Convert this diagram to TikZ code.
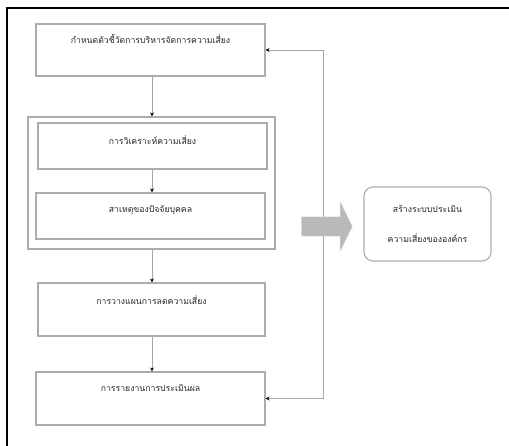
\documentclass[tikz,border=0pt]{standalone}
\usepackage{fontspec}
\newfontfamily\thaifont[Script=Thai]{Loma}
\usetikzlibrary{arrows.meta,positioning,shapes.arrows}

\tikzset{
  stepbox/.style={draw=gray!65, line width=1.1pt, minimum width=229pt, minimum height=52pt},
  boxtext/.style={font=\thaifont\fontsize{8.7}{10}\selectfont, text=black!85},
  flow/.style={draw=gray!70, line width=0.9pt, -{Stealth[black,length=4pt,width=4pt]}},
}

\begin{document}
\begin{tikzpicture}[x=1pt,y=-1pt]
    \useasboundingbox (0,0) rectangle (509,446);
    \clip (0,0) rectangle (509,446);
    % outer frame
    \draw[line width=2.4pt] (7,460) -- (7,8) -- (520,8);

    % main steps
    \node[stepbox, label={[boxtext, anchor=north, yshift=-7pt]north:กำหนดตัวชี้วัดการบริหารจัดการความเสี่ยง}] (indic) at (150.5,50) {};
    \node[stepbox, minimum width=247pt, minimum height=132pt] (grp) at (151.5,183) {};
    \node[stepbox, minimum height=46pt, label={[boxtext, anchor=north, yshift=-10pt]north:การวิเคราะห์ความเสี่ยง}] (anl) at (152.5,146) {};
    \node[stepbox, minimum height=46pt, label={[boxtext, anchor=north, yshift=-10pt]north:สาเหตุของปัจจัยบุคคล}] (cause) at (150.5,216) {};
    \node[stepbox, minimum width=227pt, minimum height=53pt, label={[boxtext, anchor=north, yshift=-10pt]north:การวางแผนการลดความเสี่ยง}] (plan) at (151.5,309.5) {};
    \node[stepbox, minimum height=53pt, label={[boxtext, anchor=north, yshift=-10pt]north:การรายงานการประเมินผล}] (report) at (150.5,398.5) {};

    % result
    \node[draw=gray!65, line width=1.1pt, rounded corners=9pt, minimum width=127pt, minimum height=74pt,
          boxtext, align=center] (result) at (427.5,224) {สร้างระบบประเมิน\\[20pt]ความเสี่ยงขององค์กร};

    % arrows
    \draw[flow] (indic.south -| 152,0) -- (grp.north -| 152,0);
    \draw[flow] (anl.south -| 152,0) -- (cause.north -| 152,0);
    \draw[flow] (grp.south -| 152,0) -- (plan.north -| 152,0);
    \draw[flow] (plan.south -| 152,0) -- (report.north -| 152,0);
    \draw[flow, {Stealth[black,length=4pt,width=4pt]}-{Stealth[black,length=4pt,width=4pt]}] (indic.east) -- ++(58,0) |- (report.east);

    % block arrow
    \node[single arrow, fill=gray!55, draw=gray!25, minimum height=51pt, inner xsep=0pt, inner ysep=9.5pt,
          single arrow head extend=15.5pt, single arrow tip angle=128] (toresult) at (324.5,226.5) {};
\end{tikzpicture}
\end{document}
